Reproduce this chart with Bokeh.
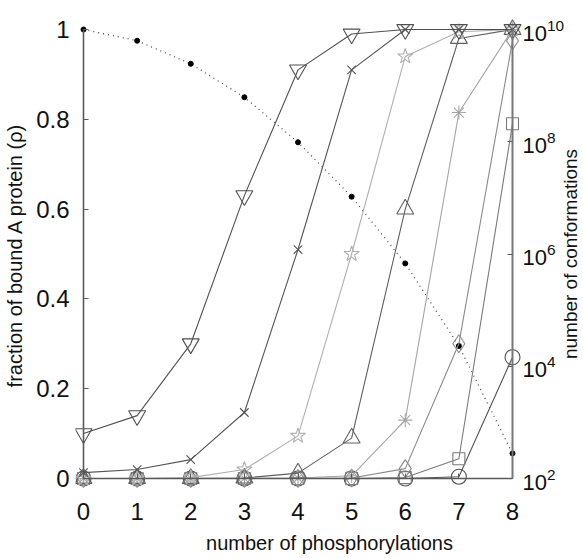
import math
from bokeh.plotting import figure
from bokeh.models import (Range1d, LogScale, LogAxis, LinearAxis, FixedTicker,
                          PrintfTickFormatter, CustomJSTickFormatter)
from bokeh.core.properties import value
from bokeh.embed import file_html
from bokeh.resources import INLINE

phosphorylations = [0, 1, 2, 3, 4, 5, 6, 7, 8]

s_invtri = [0.10, 0.14, 0.30, 0.63, 0.91, 0.99, 1.0, 1.0, 1.0]
s_x = [0.013, 0.02, 0.042, 0.147, 0.51, 0.91, 1.0, 1.0, 1.0]
s_star = [0.0, 0.0, 0.002, 0.02, 0.095, 0.50, 0.94, 0.995, 1.0]
s_tri = [0.0, 0.0, 0.0, 0.001, 0.012, 0.09, 0.60, 0.98, 1.0]
s_ast = [0.0, 0.0, 0.0, 0.0, 0.001, 0.006, 0.13, 0.815, 1.0]
s_diamond = [0.0, 0.0, 0.0, 0.0, 0.0, 0.001, 0.022, 0.30, 0.975]
s_square = [0.0, 0.0, 0.0, 0.0, 0.0, 0.0, 0.002, 0.044, 0.79]
s_circle = [0.0, 0.0, 0.0, 0.0, 0.0, 0.0, 0.0, 0.004, 0.27]

conformations = [1.0e10, 6.3e9, 2.45e9, 6.2e8, 9.8e7, 1.05e7, 6.8e5, 2.3e4, 2.8e2]

left_ticks = [0, 0.2, 0.4, 0.6, 0.8, 1.0]
right_ticks = [1e2, 1e4, 1e6, 1e8, 1e10]
right_title = "number of conformations"

FONT = "'Liberation Sans', Arial, sans-serif"
AX_COLOR = "#5a5a5a"

# padding (in pixels) around the data area so edge markers and texts are not cut off;
# on the right the drawing area runs to the edge so the right axis texts fit inside it
PX_X = 429 / 8.0
PX_Y = 449.0
XPAD = 8 / PX_X
XPAD_R = 71 / PX_X
YPAD_B = 16 / PX_Y
YPAD_T = 14 / PX_Y

p = figure(width=583, height=559,
           x_range=Range1d(-XPAD, 8 + XPAD_R), y_range=Range1d(-YPAD_B, 1 + YPAD_T),
           output_backend="svg", toolbar_location=None,
           min_border_left=75, min_border_right=0, min_border_top=15, min_border_bottom=65)
p.extra_y_ranges = {"conf": Range1d(10 ** (2 - 8 * YPAD_B), 10 ** (10 + 8 * YPAD_T))}
p.extra_y_scales = {"conf": LogScale()}
p.outline_line_color = None
p.xgrid.visible = False
p.ygrid.visible = False
p.background_fill_color = "white"
p.border_fill_color = "white"

blank = CustomJSTickFormatter(code="return ''")

# ---- axis lines and ticks, placed at the data edges (0, 8 and 0) ----
ax_left_line = LinearAxis(fixed_location=0, bounds=(0, 1), ticker=FixedTicker(ticks=left_ticks),
                          formatter=blank)
ax_bottom_line = LinearAxis(fixed_location=0, bounds=(0, 8),
                            ticker=FixedTicker(ticks=phosphorylations), formatter=blank)
ax_right = LogAxis(fixed_location=8, y_range_name="conf", bounds=(1e2, 1e10),
                   ticker=FixedTicker(ticks=right_ticks))
for ax in [ax_left_line, ax_bottom_line, ax_right]:
    ax.axis_line_color = AX_COLOR
    ax.axis_line_width = 1.6
    ax.major_tick_in = 5
    ax.major_tick_out = 0
    ax.major_tick_line_color = AX_COLOR
    ax.minor_tick_line_color = None
ax_left_line.major_label_text_alpha = 0
ax_bottom_line.major_label_text_alpha = 0
ax_right.axis_line_color = "#777777"
ax_right.axis_line_width = 2
p.add_layout(ax_left_line, "left")
p.add_layout(ax_bottom_line, "below")
p.add_layout(ax_right, "right")

# ---- tick labels and axis titles ----
for ax in [p.xaxis[0], p.yaxis[0], ax_right]:
    ax.major_label_text_font = FONT
    ax.major_label_text_font_size = "24px"
    ax.major_label_text_color = "#111111"
    ax.axis_label_text_font = FONT
    ax.axis_label_text_font_size = "20px"
    ax.axis_label_text_font_style = "normal"
    ax.axis_label_text_color = "#111111"
for ax in [p.xaxis[0], p.yaxis[0]]:
    ax.axis_line_color = None
    ax.major_tick_line_color = None
    ax.minor_tick_line_color = None

p.xaxis[0].ticker = FixedTicker(ticks=phosphorylations)
p.xaxis[0].axis_label = "number of phosphorylations"
p.xaxis[0].major_label_standoff = 2
p.xaxis[0].axis_label_standoff = 9

p.yaxis[0].ticker = FixedTicker(ticks=left_ticks)
p.yaxis[0].formatter = PrintfTickFormatter(format="%g")
p.yaxis[0].axis_label = "fraction of bound A protein (ρ)"
p.yaxis[0].major_label_standoff = 0
p.yaxis[0].axis_label_standoff = 7

ax_right.major_label_text_font_size = "22px"
ax_right.major_label_standoff = 10

# right-hand axis title, reading bottom to top beside the tick labels
p.text(x=[phosphorylations[-1]], y=[(left_ticks[0] + left_ticks[-1]) / 2], text=[right_title],
       angle=math.pi / 2, x_offset=58, text_align="center", text_baseline="middle",
       text_font=value("Liberation Sans"), text_font_size="19px", text_color="#111111")

# dotted conformations curve on the log axis
p.line(phosphorylations, conformations, y_range_name="conf", line_color="#444444",
       line_width=1.2, line_dash="1 4")
p.scatter(phosphorylations, conformations, y_range_name="conf", size=5,
          fill_color="black", line_color="black")

series = [
    (s_circle, "circle", "#555555", 15),
    (s_square, "square", "#7a7a7a", 12),
    (s_diamond, "diamond", "#8a8a8a", 18),
    (s_ast, "asterisk", "#a5a5a5", 14),
    (s_tri, "triangle", "#606060", 17),
    (s_star, "star", "#b0b0b0", 16),
    (s_x, "x", "#555555", 12),
    (s_invtri, "inverted_triangle", "#505050", 17),
]
for vals, marker, color, size in series:
    p.line(phosphorylations, vals, line_color=color, line_width=1.1)
    p.scatter(phosphorylations, vals, marker=marker, size=size, fill_alpha=0,
              line_color=color, line_width=1.1)

open("out.html", "w").write(file_html(p, INLINE))
